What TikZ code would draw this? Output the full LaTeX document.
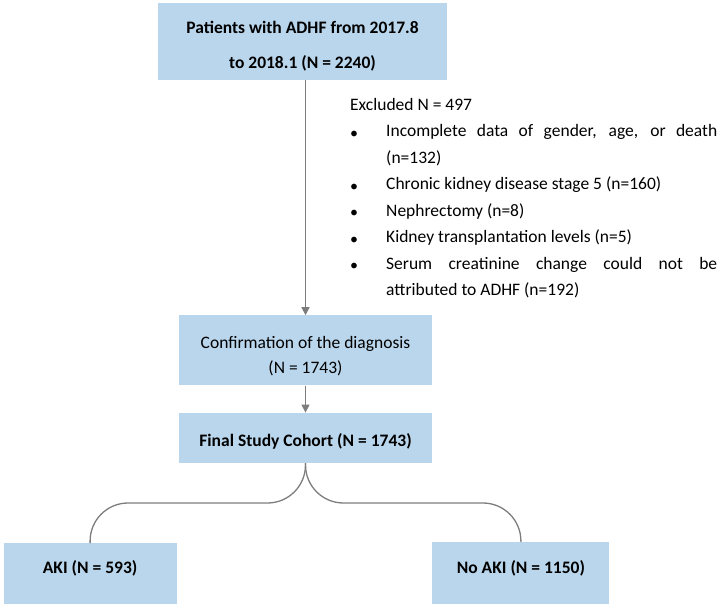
\documentclass[tikz,border=0pt]{standalone}
\usepackage{fontspec}
\setmainfont{Carlito}
\usepackage{xcolor}
\usetikzlibrary{positioning,arrows.meta,calc}

\definecolor{boxblue}{RGB}{186,214,236}
\definecolor{linegray}{RGB}{125,125,125}

% move a line of box text up or down, keeping the box size
\newcommand{\nudge}[2]{\raisebox{#1}[\height][\depth]{#2}}

% bullet list for the exclusions
\newenvironment{exclist}{%
  \begin{list}{\raisebox{-1.5pt}{\fontsize{16}{16}\selectfont\textbullet}}{%
    \setlength\leftmargin{36pt}\setlength\labelwidth{34pt}%
    \setlength\labelsep{2pt}\setlength\itemsep{0pt}%
    \setlength\parsep{0pt}\setlength\topsep{0pt}\setlength\partopsep{0pt}%
    \def\makelabel##1{##1\hfil}}}%
  {\end{list}}

\begin{document}
\begin{tikzpicture}[
    >={Triangle[width=8pt,length=8pt]},
    box/.style={fill=boxblue, inner sep=0pt, align=center, minimum width=#1,
                font=\fontsize{17.5}{25}\selectfont},
    box/.default=253pt,
    arr/.style={->, draw=linegray, fill=linegray, line width=1.4pt},
    link/.style={draw=linegray, line width=1.3pt, rounded corners=38pt},
]
\useasboundingbox (0,0) rectangle (720pt,-607pt);

% --- Main flow ---
\node[box=289pt, minimum height=77pt, font=\bfseries\fontsize{17.5}{35}\selectfont]
    (patients) at (302.5pt,-41.5pt)
    {\nudge{-5pt}{Patients with ADHF from 2017.8}\\\nudge{-5pt}{to 2018.1 (N = 2240)}};
\node[box, minimum height=70pt, below=235pt of patients, xshift=3pt] (confirm)
    {\nudge{-6pt}{Confirmation of the diagnosis}\\\nudge{-6pt}{(N = 1743)}};
\node[box, minimum height=50pt, below=27pt of confirm, font=\bfseries\fontsize{17.5}{25}\selectfont]
    (cohort) {\nudge{-4pt}{Final Study Cohort (N = 1743)}};

% --- Exclusions ---
\node[anchor=north west, inner sep=0pt, text width=367pt, align=justify,
      font=\fontsize{17.5}{26.5}\selectfont] (excluded) at (350pt,-98pt) {%
Excluded N = 497
\begin{exclist}
\item Incomplete data of gender, age, or death\linebreak (n=132)
\item Chronic kidney disease stage 5 (n=160)
\item Nephrectomy (n=8)
\item Kidney transplantation levels (n=5)
\item Serum creatinine change could not be\linebreak attributed to ADHF (n=192)
\end{exclist}};

% --- Groups ---
\node[box=173pt, minimum height=61pt, font=\bfseries\fontsize{17.5}{25}\selectfont,
      below left=80pt and 2pt of cohort] (aki) {\nudge{5pt}{AKI (N = 593)}};
\node[box=177pt, minimum height=62pt, font=\bfseries\fontsize{17.5}{25}\selectfont,
      below right=79pt and 0pt of cohort] (noaki) {\nudge{5pt}{No AKI (N = 1150)}};

% --- Arrows ---
\draw[arr] (patients.south -| confirm.north) -- (confirm.north);
\draw[arr] (confirm) -- (cohort);

% split into the two groups
\coordinate (split) at ($(cohort.south)!0.5!(aki.north)$);
\draw[link] (cohort.south) |- (aki.north |- split) -- (aki.north);
\draw[link] (cohort.south) |- (noaki.north |- split) -- (noaki.north);

\end{tikzpicture}
\end{document}
